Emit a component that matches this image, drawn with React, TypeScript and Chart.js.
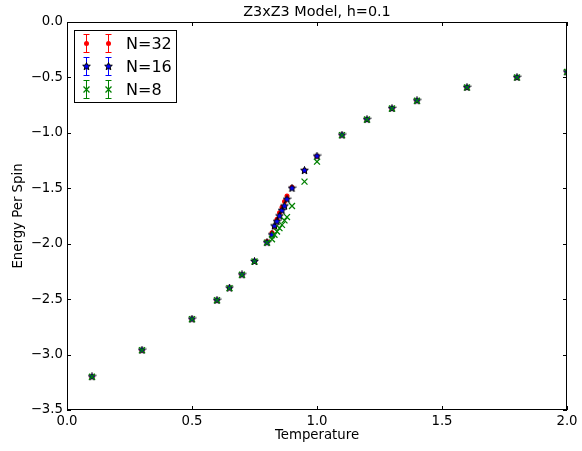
import React, { useEffect, useRef } from "react";
import { Chart, registerables } from "chart.js";

Chart.register(...registerables);

const titleText = "Z3xZ3 Model, h=0.1";
const xLabel = "Temperature";
const yLabel = "Energy Per Spin";

const temps = [0.1, 0.3, 0.5, 0.6, 0.65, 0.7, 0.75, 0.8, 0.82, 0.83, 0.84, 0.85, 0.86, 0.87, 0.88, 0.9, 0.95, 1.0, 1.1, 1.2, 1.3, 1.4, 1.6, 1.8, 2.0];
const energyN32 = [-3.2, -2.96, -2.68, -2.51, -2.4, -2.28, -2.16, -1.98, -1.9, -1.85, -1.78, -1.72, -1.67, -1.62, -1.57, -1.49, -1.34, -1.21, -1.02, -0.88, -0.78, -0.71, -0.59, -0.5, -0.45];
const energyN16 = [-3.2, -2.96, -2.68, -2.51, -2.4, -2.28, -2.16, -1.99, -1.92, -1.84, -1.8, -1.75, -1.7, -1.66, -1.6, -1.5, -1.34, -1.21, -1.02, -0.88, -0.78, -0.71, -0.59, -0.5, -0.45];
const energyN8 = [-3.2, -2.96, -2.68, -2.51, -2.4, -2.28, -2.16, -1.99, -1.96, -1.92, -1.89, -1.86, -1.83, -1.79, -1.76, -1.66, -1.44, -1.26, -1.02, -0.88, -0.78, -0.71, -0.59, -0.5, -0.45];
const seriesLabels = ["N=32", "N=16", "N=8"];
const xTicks = [0, 0.5, 1.0, 1.5, 2.0];
const yTicks = [0, -0.5, -1.0, -1.5, -2.0, -2.5, -3.0, -3.5];

const FONT = "'DejaVu Sans', sans-serif";

function makeStar(size: number) {
  const c = document.createElement("canvas");
  c.width = size;
  c.height = size;
  const ctx = c.getContext("2d")!;
  const cx = size / 2, cy = size / 2;
  const R = size / 2 - 0.5, r = R * 0.45;
  ctx.beginPath();
  for (let i = 0; i < 10; i++) {
    const rad = i % 2 === 0 ? R : r;
    const a = -Math.PI / 2 + (i * Math.PI) / 5;
    const x = cx + rad * Math.cos(a), y = cy + rad * Math.sin(a);
    if (i === 0) ctx.moveTo(x, y); else ctx.lineTo(x, y);
  }
  ctx.closePath();
  ctx.fillStyle = "#0000ff";
  ctx.fill();
  ctx.strokeStyle = "#000000";
  ctx.lineWidth = 1;
  ctx.stroke();
  return c;
}

function fmt(v: number) {
  const s = Math.abs(v).toFixed(1);
  return v < 0 ? "\u2212" + s : s;
}

export default function App() {
  const ref = useRef<HTMLCanvasElement | null>(null);
  useEffect(() => {
    const star = makeStar(9);
    const colors = ["#ff0000", "#0000ff", "#008000"];

    const drawMarker = (ctx: CanvasRenderingContext2D, idx: number, x: number, y: number) => {
      if (idx === 0) {
        ctx.beginPath();
        ctx.arc(x, y, 2.5, 0, Math.PI * 2);
        ctx.fillStyle = "#ff0000";
        ctx.fill();
      } else if (idx === 1) {
        ctx.drawImage(star, x - 4.5, y - 4.5);
      } else {
        ctx.beginPath();
        ctx.moveTo(x - 3, y - 3); ctx.lineTo(x + 3, y + 3);
        ctx.moveTo(x - 3, y + 3); ctx.lineTo(x + 3, y - 3);
        ctx.strokeStyle = "#008000";
        ctx.lineWidth = 1.3;
        ctx.stroke();
      }
    };

    const decor = {
      id: "decor",
      afterDraw(chart: any) {
        const ctx = chart.ctx as CanvasRenderingContext2D;
        const a = chart.chartArea;
        const xs = chart.scales.x, ys = chart.scales.y;
        ctx.save();
        ctx.strokeStyle = "#000";
        ctx.lineWidth = 1;
        ctx.strokeRect(Math.round(a.left) + 0.5, Math.round(a.top) + 0.5, Math.round(a.right - a.left) - 1, Math.round(a.bottom - a.top) - 1);
        ctx.beginPath();
        for (const t of xTicks) {
          const px = Math.round(xs.getPixelForValue(t)) + 0.5;
          ctx.moveTo(px, a.bottom); ctx.lineTo(px, a.bottom - 4);
          ctx.moveTo(px, a.top); ctx.lineTo(px, a.top + 4);
        }
        for (const t of yTicks) {
          const py = Math.round(ys.getPixelForValue(t)) + 0.5;
          ctx.moveTo(a.left, py); ctx.lineTo(a.left + 4, py);
          ctx.moveTo(a.right, py); ctx.lineTo(a.right - 4, py);
        }
        ctx.stroke();
        ctx.fillStyle = "#000";
        ctx.textAlign = "center";
        ctx.textBaseline = "middle";
        ctx.font = `14.4px ${FONT}`;
        ctx.fillText(titleText, (a.left + a.right) / 2, 12);
        ctx.font = `13.3px ${FONT}`;
        ctx.fillText(xLabel, (a.left + a.right) / 2, 436);
        ctx.save();
        ctx.translate(19, (a.top + a.bottom) / 2);
        ctx.rotate(-Math.PI / 2);
        ctx.fillText(yLabel, 0, 0);
        ctx.restore();
        const lx = 74.5, ly = 30.5, lw = 102, lh = 72;
        ctx.fillStyle = "#fff";
        ctx.fillRect(lx, ly, lw, lh);
        ctx.strokeStyle = "#000";
        ctx.lineWidth = 1;
        ctx.strokeRect(lx, ly, lw, lh);
        ctx.font = `16px ${FONT}`;
        ctx.textAlign = "left";
        for (let i = 0; i < 3; i++) {
          const y = 43.5 + i * 23;
          for (const mx of [86.5, 108.5]) {
            ctx.beginPath();
            ctx.strokeStyle = colors[i];
            ctx.lineWidth = 1;
            ctx.moveTo(mx, y - 9); ctx.lineTo(mx, y + 9);
            ctx.moveTo(mx - 3, y - 9); ctx.lineTo(mx + 3, y - 9);
            ctx.moveTo(mx - 3, y + 9); ctx.lineTo(mx + 3, y + 9);
            ctx.stroke();
            drawMarker(ctx, i, mx, y);
          }
          ctx.fillStyle = "#000";
          ctx.fillText(seriesLabels[i], 126, y + 1);
        }
        ctx.restore();
      },
    };

    const mk = (vals: number[]) => temps.map((t, i) => ({ x: t, y: vals[i] }));

    const chart = new Chart(ref.current!, {
      type: "scatter",
      data: {
        datasets: [
          {
            label: seriesLabels[0],
            data: mk(energyN32),
            pointStyle: "circle",
            pointRadius: 2.5,
            backgroundColor: "#ff0000",
            borderColor: "#ff0000",
            borderWidth: 0,
            order: 3,
          },
          {
            label: seriesLabels[1],
            data: mk(energyN16),
            pointStyle: star as any,
            pointRadius: 4.5,
            backgroundColor: "#0000ff",
            borderColor: "#000",
            order: 2,
          },
          {
            label: seriesLabels[2],
            data: mk(energyN8),
            pointStyle: "crossRot",
            pointRadius: 4.2,
            borderColor: "#008000",
            backgroundColor: "#008000",
            borderWidth: 1.3,
            order: 1,
          },
        ],
      },
      options: {
        responsive: false,
        animation: false,
        layout: { padding: { top: 22, right: 15, left: 0, bottom: 0 } },
        plugins: {
          legend: { display: false },
          title: { display: false },
          tooltip: { enabled: false },
        },
        scales: {
          x: {
            type: "linear",
            min: 0,
            max: 2,
            grid: { display: false, drawTicks: false, tickLength: 0 },
            border: { display: false },
            afterFit: (s: any) => { s.height = 41; },
            afterBuildTicks: (s: any) => { s.ticks = xTicks.map((v) => ({ value: v })); },
            ticks: {
              autoSkip: false,
              maxRotation: 0,
              padding: 4,
              color: "#000",
              font: { family: FONT, size: 13.3 },
              callback: (v: any) => fmt(Number(v)),
            },
          },
          y: {
            type: "linear",
            min: -3.5,
            max: 0,
            grid: { display: false, drawTicks: false, tickLength: 0 },
            border: { display: false },
            afterFit: (s: any) => { s.width = 67; },
            afterBuildTicks: (s: any) => { s.ticks = yTicks.map((v) => ({ value: v })); },
            ticks: {
              autoSkip: false,
              padding: 4,
              color: "#000",
              font: { family: FONT, size: 13.3 },
              callback: (v: any) => fmt(Number(v)),
            },
          },
        },
      },
      plugins: [decor],
    });
    return () => chart.destroy();
  }, []);
  return (
    <div style={{ position: "fixed", left: 0, top: 0, width: 582, height: 451, background: "#fff" }}>
      <canvas ref={ref} width={582} height={451} style={{ display: "block" }} />
    </div>
  );
}
